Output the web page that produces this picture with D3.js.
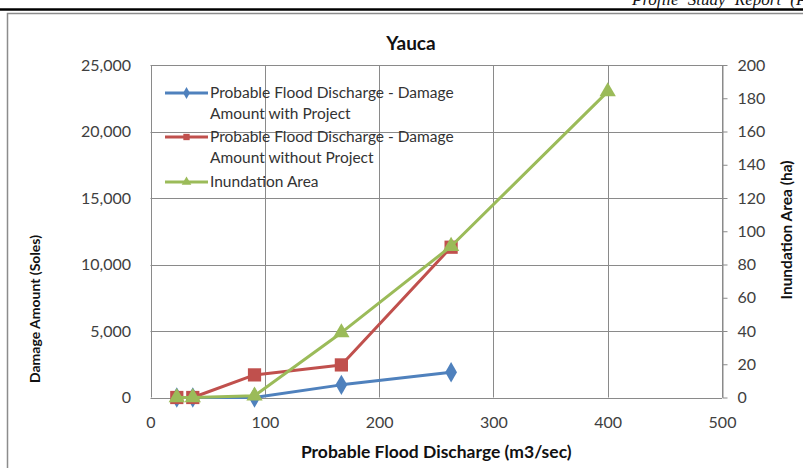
<!DOCTYPE html>
<html>
<head>
<meta charset="utf-8">
<script src="https://cdn.jsdelivr.net/npm/d3@7"></script>
<style>
  html, body { margin: 0; padding: 0; background: #fff; overflow: hidden; }
  svg { display: block; }
  text { font-family: Lato, "Open Sans", sans-serif; }
</style>
</head>
<body>
<script>
// Discharge (m3/sec) for each return period
const discharge = [23, 37, 91, 167, 263];
const dischargeArea = [23, 37, 91, 167, 263, 400];
// Damage amounts (Soles)
const damageWithProject = [0, 0, 0, 950, 1900];
const damageWithoutProject = [0, 0, 1700, 2450, 11300];
// Inundated area (ha)
const inundationArea = [0, 0, 1, 39, 91, 184];

const xTicks = [0, 100, 200, 300, 400, 500];
const yLeftTicks = [0, 5000, 10000, 15000, 20000, 25000];
const yRightTicks = [0, 20, 40, 60, 80, 100, 120, 140, 160, 180, 200];

const seriesNames = [
  ["Probable Flood Discharge - Damage", "Amount with Project"],
  ["Probable Flood Discharge - Damage", "Amount without Project"],
  ["Inundation Area"]
];

const W = 803, H = 468;
const plot = { left: 150.5, right: 722, top: 65, bottom: 397.5 };
const colors = { blue: "#4F81BD", red: "#C0504D", green: "#9BBB59" };

const svg = d3.select("body").append("svg").attr("width", W).attr("height", H);

// Page header and frame
svg.append("line").attr("x1", 0).attr("x2", W).attr("y1", 9.5).attr("y2", 9.5)
  .attr("stroke", "#000").attr("stroke-width", 2.5);
svg.append("text").attr("x", 632).attr("y", 5)
  .style("font-family", "'Liberation Serif', 'DejaVu Serif', serif")
  .style("font-style", "italic").style("font-size", "17px").attr("fill", "#111")
  .style("word-spacing", "5px")
  .text("Profile Study Report (Pre-feasibility Study Level)");
svg.append("rect").attr("x", 7.5).attr("y", 13.5).attr("width", W).attr("height", H)
  .attr("fill", "none").attr("stroke", "#8c8c8c").attr("stroke-width", 1.5);

const x = d3.scaleLinear().domain([0, 500]).range([plot.left, plot.right]);
const yL = d3.scaleLinear().domain([0, 25000]).range([plot.bottom, plot.top]);
const yR = d3.scaleLinear().domain([0, 200]).range([plot.bottom, plot.top]);

const grid = svg.append("g").attr("stroke", "#8a8a8a").attr("stroke-width", 1);
grid.selectAll("line.h").data(yLeftTicks).join("line")
  .attr("x1", plot.left).attr("x2", plot.right)
  .attr("y1", d => Math.round(yL(d)) + 0.5).attr("y2", d => Math.round(yL(d)) + 0.5);
grid.selectAll("line.v").data(xTicks).join("line")
  .attr("y1", plot.top).attr("y2", plot.bottom)
  .attr("x1", d => Math.round(x(d)) + 0.5).attr("x2", d => Math.round(x(d)) + 0.5);

// Axes
const tickFont = g => g.selectAll("text").style("font-size", "16px").attr("fill", "#404040")
  .style("font-family", "Lato, 'Open Sans', sans-serif");

svg.append("g").attr("transform", `translate(${plot.left - 15.5},0)`)
  .call(d3.axisLeft(yL).tickValues(yLeftTicks).tickFormat(d3.format(",")).tickSize(0).tickPadding(4))
  .call(g => g.select(".domain").remove())
  .call(tickFont);

svg.append("g").attr("transform", `translate(0,${plot.bottom + 15})`)
  .call(d3.axisBottom(x).tickValues(xTicks).tickSize(0).tickPadding(4))
  .call(g => g.select(".domain").remove())
  .call(tickFont);

svg.append("g").attr("transform", `translate(${Math.round(plot.right) + 0.5},0)`)
  .call(d3.axisRight(yR).tickValues(yRightTicks).tickSize(5).tickSizeOuter(0).tickPadding(10))
  .call(g => g.selectAll(".domain, line").attr("stroke", "#8a8a8a"))
  .call(tickFont);

// Titles
svg.append("text").attr("x", 411).attr("y", 50).attr("text-anchor", "middle")
  .style("font-size", "19px").style("font-weight", "bold").attr("fill", "#111").text("Yauca");
svg.append("text").attr("x", (plot.left + plot.right) / 2).attr("y", 458).attr("text-anchor", "middle")
  .style("font-size", "17.5px").style("font-weight", "bold").attr("fill", "#111")
  .text("Probable Flood Discharge (m3/sec)");
svg.append("text").attr("transform", "translate(40,309) rotate(-90)").attr("text-anchor", "middle")
  .style("font-size", "14px").style("font-weight", "bold").attr("fill", "#111")
  .text("Damage Amount (Soles)");
svg.append("text").attr("transform", "translate(792,230) rotate(-90)").attr("text-anchor", "middle")
  .style("font-size", "15.5px").style("font-weight", "bold").attr("fill", "#111")
  .text("Inundation Area (ha)");

// Series
const lineL = d3.line().x(d => x(d[0])).y(d => yL(d[1]));
const lineR = d3.line().x(d => x(d[0])).y(d => yR(d[1]));

const series = [
  { pts: d3.zip(discharge, damageWithProject), line: lineL, y: yL, color: colors.blue, sym: d3.symbolDiamond, size: 120 },
  { pts: d3.zip(discharge, damageWithoutProject), line: lineL, y: yL, color: colors.red, sym: d3.symbolSquare, size: 175 },
  { pts: d3.zip(dischargeArea, inundationArea), line: lineR, y: yR, color: colors.green, sym: d3.symbolTriangle, size: 115 }
];

series.forEach(s => {
  svg.append("path").datum(s.pts).attr("d", s.line).attr("fill", "none")
    .attr("stroke", s.color).attr("stroke-width", 3).attr("stroke-linejoin", "round");
  svg.append("g").selectAll("path").data(s.pts).join("path")
    .attr("d", d3.symbol(s.sym, s.size))
    .attr("transform", d => `translate(${x(d[0])},${s.y(d[1])})`)
    .attr("fill", s.color);
});

// Legend
const legendRows = [93, 137, 182];
const legend = svg.append("g");
series.forEach((s, i) => {
  const yy = legendRows[i];
  legend.append("line").attr("x1", 165).attr("x2", 208).attr("y1", yy).attr("y2", yy)
    .attr("stroke", s.color).attr("stroke-width", 3);
  legend.append("path").attr("d", d3.symbol(s.sym, 40)).attr("transform", `translate(186.5,${yy})`)
    .attr("fill", s.color);
  seriesNames[i].forEach((t, j) => {
    legend.append("text").attr("x", 210).attr("y", yy + 5 + j * 21)
      .style("font-size", "15.5px").attr("fill", "#333").text(t);
  });
});
</script>
</body>
</html>
